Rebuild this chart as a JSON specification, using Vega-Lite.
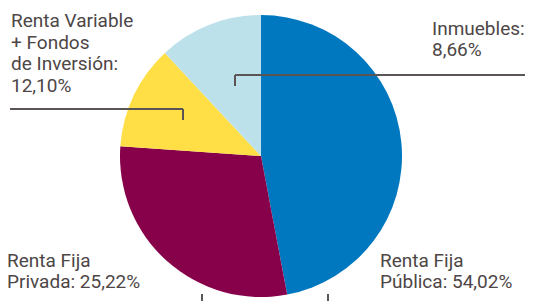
{
  "$schema": "https://vega.github.io/schema/vega-lite/v6.json",
  "width": 533,
  "height": 301,
  "padding": 0,
  "autosize": {"type": "none"},
  "background": "white",
  "config": {"view": {"stroke": null}},
  "data": {
    "values": [
      {"categoria": "Renta Fija Pública", "orden": 1, "valor": 169.3, "etiqueta": ["Renta Fija", "Pública: 54,02%"]},
      {"categoria": "Renta Fija Privada", "orden": 2, "valor": 104.7, "etiqueta": ["Renta Fija", "Privada: 25,22%"]},
      {"categoria": "Renta Variable + Fondos de Inversión", "orden": 3, "valor": 43, "etiqueta": ["Renta Variable", "+ Fondos", "de Inversión:", "12,10%"]},
      {"categoria": "Inmuebles", "orden": 4, "valor": 43, "etiqueta": ["Inmuebles:", "8,66%"]}
    ]
  },
  "resolve": {"scale": {"x": "shared", "y": "shared"}},
  "layer": [
    {
      "mark": {"type": "arc", "radius": 141, "stroke": null},
      "encoding": {
        "x": {"datum": 261, "type": "quantitative", "scale": {"domain": [0, 533], "range": [0, 533], "nice": false, "zero": false}, "axis": null},
        "y": {"datum": 156, "type": "quantitative", "scale": {"domain": [0, 301], "range": [0, 301], "nice": false, "zero": false}, "axis": null},
        "theta": {"field": "valor", "type": "quantitative", "stack": true},
        "order": {"field": "orden", "type": "quantitative"},
        "color": {
          "field": "categoria", "type": "nominal", "legend": null,
          "scale": {
            "domain": ["Renta Fija Pública", "Renta Fija Privada", "Renta Variable + Fondos de Inversión", "Inmuebles"],
            "range": ["#0078C0", "#87004A", "#FFDF45", "#BDE1EB"]
          }
        }
      }
    },
    {
      "mark": {"type": "rule", "color": "#5b5555", "strokeWidth": 1.5},
      "encoding": {"x": {"datum": 10, "type": "quantitative"}, "x2": {"datum": 183}, "y": {"datum": 109, "type": "quantitative"}}
    },
    {
      "mark": {"type": "rule", "color": "#5b5555", "strokeWidth": 1.5},
      "encoding": {"x": {"datum": 183, "type": "quantitative"}, "y": {"datum": 109, "type": "quantitative"}, "y2": {"datum": 120}}
    },
    {
      "mark": {"type": "rule", "color": "#5b5555", "strokeWidth": 1.5},
      "encoding": {"x": {"datum": 235, "type": "quantitative"}, "x2": {"datum": 525}, "y": {"datum": 75, "type": "quantitative"}}
    },
    {
      "mark": {"type": "rule", "color": "#5b5555", "strokeWidth": 1.5},
      "encoding": {"x": {"datum": 235, "type": "quantitative"}, "y": {"datum": 75, "type": "quantitative"}, "y2": {"datum": 86}}
    },
    {
      "mark": {"type": "rule", "color": "#5b5555", "strokeWidth": 1.5},
      "encoding": {"x": {"datum": 202, "type": "quantitative"}, "y": {"datum": 294, "type": "quantitative"}, "y2": {"datum": 301}}
    },
    {
      "mark": {"type": "rule", "color": "#5b5555", "strokeWidth": 1.5},
      "encoding": {"x": {"datum": 328, "type": "quantitative"}, "y": {"datum": 294, "type": "quantitative"}, "y2": {"datum": 301}}
    },
    {
      "transform": [{"filter": "datum.orden == 3"}],
      "mark": {"type": "text", "align": "left", "baseline": "alphabetic", "font": "Roboto", "fontSize": 19, "lineHeight": 21.5, "color": "#4d4646"},
      "encoding": {"x": {"datum": 11, "type": "quantitative"}, "y": {"datum": 27, "type": "quantitative"}, "text": {"field": "etiqueta"}}
    },
    {
      "transform": [{"filter": "datum.orden == 4"}],
      "mark": {"type": "text", "align": "left", "baseline": "alphabetic", "font": "Roboto", "fontSize": 19, "lineHeight": 21, "color": "#4d4646"},
      "encoding": {"x": {"datum": 432, "type": "quantitative"}, "y": {"datum": 35, "type": "quantitative"}, "text": {"field": "etiqueta"}}
    },
    {
      "transform": [{"filter": "datum.orden == 2"}],
      "mark": {"type": "text", "align": "left", "baseline": "alphabetic", "font": "Roboto", "fontSize": 19, "lineHeight": 21, "color": "#4d4646"},
      "encoding": {"x": {"datum": 7, "type": "quantitative"}, "y": {"datum": 267, "type": "quantitative"}, "text": {"field": "etiqueta"}}
    },
    {
      "transform": [{"filter": "datum.orden == 1"}],
      "mark": {"type": "text", "align": "left", "baseline": "alphabetic", "font": "Roboto", "fontSize": 19, "lineHeight": 21, "color": "#4d4646"},
      "encoding": {"x": {"datum": 380, "type": "quantitative"}, "y": {"datum": 267, "type": "quantitative"}, "text": {"field": "etiqueta"}}
    }
  ]
}
